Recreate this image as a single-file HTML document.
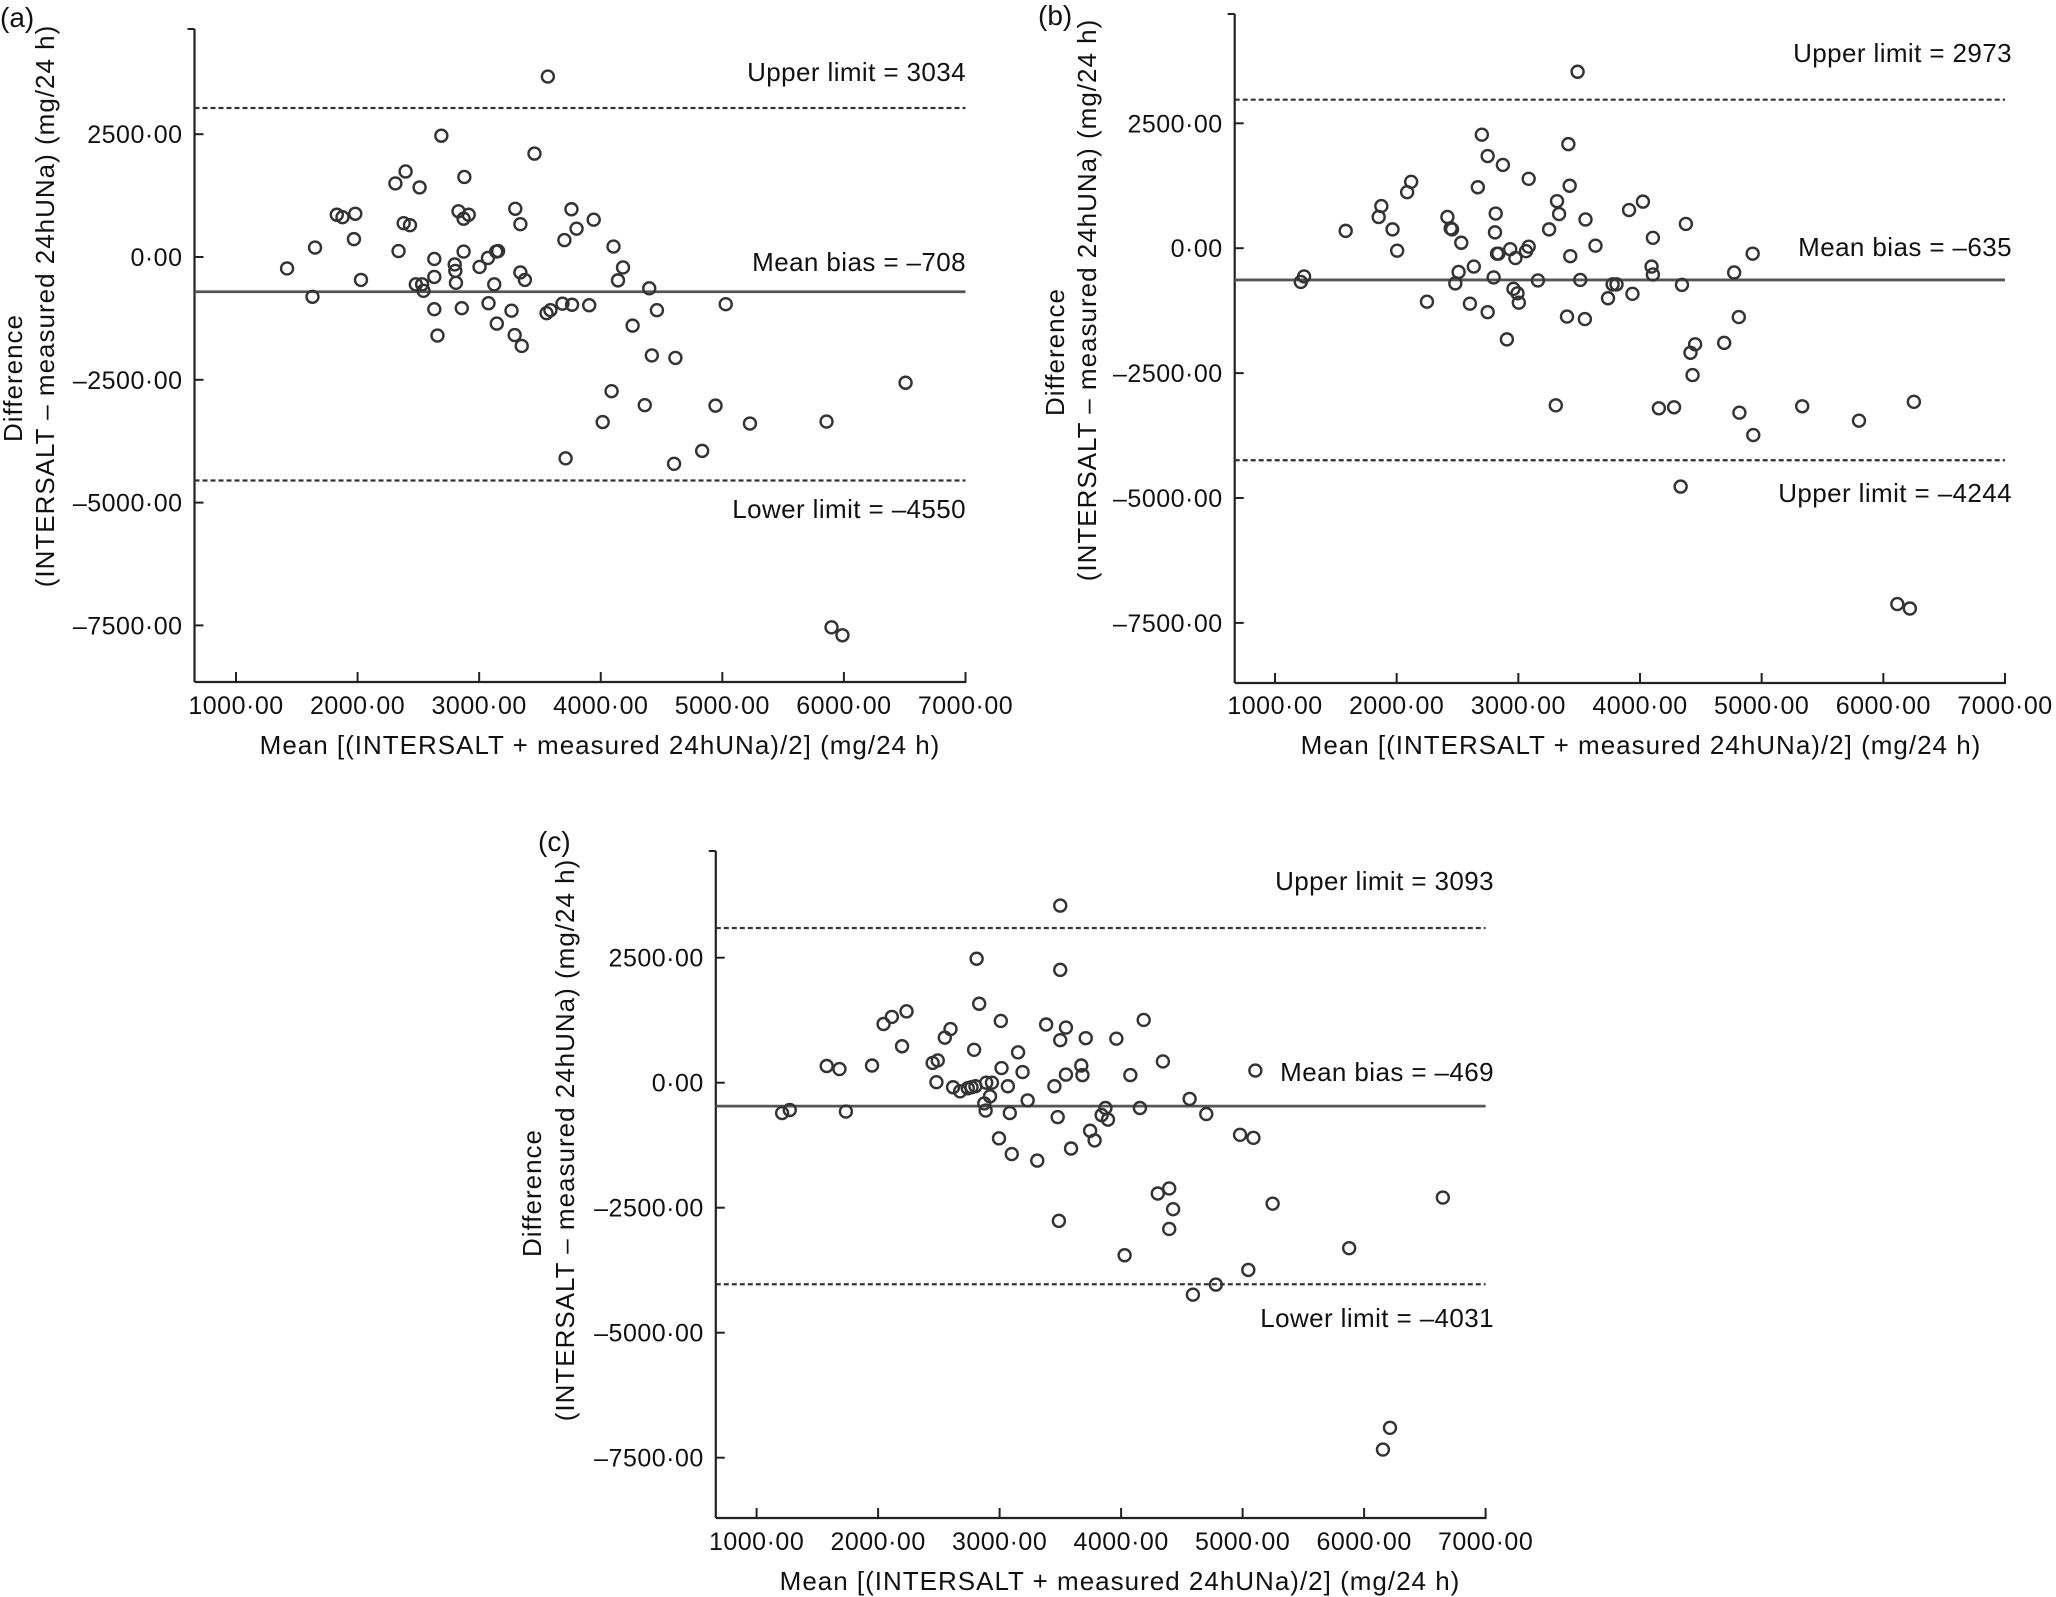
<!DOCTYPE html>
<html><head><meta charset="utf-8">
<style>
html,body{margin:0;padding:0;background:#fff;}
svg{display:block;font-family:"Liberation Sans",Arial,sans-serif;}
</style></head>
<body>
<svg id="fig" width="2056" height="1597" viewBox="0 0 2056 1597" xmlns="http://www.w3.org/2000/svg"></svg>
<script>
const xTicks = [1000,2000,3000,4000,5000,6000,7000];
const xTickLabels = ["1000·00","2000·00","3000·00","4000·00","5000·00","6000·00","7000·00"];
const yTicks = [2500,0,-2500,-5000,-7500];
const yTickLabels = ["2500·00","0·00","–2500·00","–5000·00","–7500·00"];

const aMean = [1420,1629,1650,1829,1876,1981,1970,2028,2311,2337,2395,2379,2431,2479,2510,2531,2542,2631,2631,2631,2657,2689,2799,2804,2809,2830,2857,2872,2878,2872,2914,3003,3072,3077,3124,3140,3156,3145,3266,3297,3292,3339,3339,3376,3350,3455,3565,3554,3586,3685,3701,3711,3759,3764,3801,3905,3942,4016,4089,4105,4142,4183,4262,4362,4399,4420,4462,4603,4614,4834,4944,5028,5227,5857,5898,5988,6507];
const aDiff = [-233,-810,192,860,810,880,364,-466,1498,121,1741,688,648,-557,1417,-557,-688,-40,-405,-1063,-1599,2469,-152,-283,-526,931,-1042,779,1629,111,860,-202,-20,-941,-557,111,121,-1356,-1093,982,-1589,668,-314,-466,-1811,2105,3674,-1144,-1083,-951,344,-4099,972,-972,577,-982,759,-3360,-2732,213,-476,-213,-1397,-3016,-638,-2004,-1083,-4210,-2054,-3947,-3026,-961,-3390,-3350,-7539,-7701,-2560];

const bMean = [1212,1239,1581,1852,1874,1966,2004,2086,2119,2249,2417,2444,2455,2482,2509,2531,2602,2634,2667,2700,2748,2748,2797,2808,2814,2825,2836,2873,2906,2933,2960,2976,2993,3004,3063,3085,3085,3161,3253,3308,3318,3335,3400,3411,3422,3427,3487,3509,3547,3552,3634,3737,3775,3807,3910,3938,4024,4095,4106,4106,4155,4280,4334,4345,4377,4415,4432,4453,4692,4774,4812,4817,4926,4931,5333,5800,6115,6218,6251];
const bDiff = [-675,-565,347,625,843,377,-50,1121,1329,-1071,625,397,377,-704,-476,109,-1111,-367,1220,2272,1845,-1280,-585,317,694,-109,-109,1667,-1825,-20,-813,-198,-903,-1091,-60,30,1389,-645,377,-3145,942,684,-1369,2083,1250,-159,3532,-635,-1419,575,50,-1002,-724,-724,764,-913,932,-367,208,-526,-3204,-3184,-4772,-734,486,-2093,-2540,-1924,-1895,-486,-1379,-3293,-109,-3740,-3164,-3452,-7123,-7212,-3075];

const cMean = [1210,1273,1577,1682,1735,1950,2045,2113,2197,2234,2449,2491,2480,2549,2596,2617,2675,2738,2769,2790,2801,2811,2832,2874,2885,2890,2921,2937,2995,3016,3010,3068,3084,3100,3152,3189,3231,3310,3383,3451,3478,3488,3499,3499,3499,3546,3546,3588,3672,3682,3709,3745,3782,3840,3871,3892,3961,4029,4076,4155,4186,4302,4344,4396,4428,4396,4564,4591,4701,4780,4979,5047,5089,5105,5247,5877,6155,6213,6648];
const cDiff = [-607,-546,334,273,-577,344,1174,1316,729,1427,395,445,10,901,1073,-91,-172,-111,-91,658,-71,2479,1579,-415,-557,0,-273,0,-1113,293,1235,-71,-607,-1427,607,213,-354,-1558,1164,-71,-688,-2763,2257,850,3542,162,1103,-1316,344,152,891,-961,-1154,-648,-506,-739,880,-3451,152,-506,1255,-2216,425,-2115,-2530,-2925,-324,-4240,-627,-4038,-1042,-3744,-1103,243,-2419,-3309,-7337,-6902,-2297];

const aLimits = [3034,-708,-4550];
const bLimits = [2973,-635,-4244];
const cLimits = [3093,-469,-4031];
const aLabels = ["Upper limit = 3034","Mean bias = –708","Lower limit = –4550"];
const bLabels = ["Upper limit = 2973","Mean bias = –635","Upper limit = –4244"];
const cLabels = ["Upper limit = 3093","Mean bias = –469","Lower limit = –4031"];

const NS = "http://www.w3.org/2000/svg";
const svg = document.getElementById('fig');
function mk(tag, attrs, parent, text){
  const e = document.createElementNS(NS, tag);
  for (const k in attrs) e.setAttribute(k, attrs[k]);
  if (text !== undefined) e.textContent = text;
  parent.appendChild(e);
  return e;
}

function drawPanel(id, g, means, diffs, limits, labels){
  const grp = mk('g', {}, svg);
  
  
  const sx = v => g.x1000 + (v - 1000) * (g.x7000 - g.x1000) / 6000;
  const sy = v => g.y0 - v * g.per2500 / 2500;
  const col = '#222';
  const pl = mk('text', {x:g.lx, y:g.ly, 'font-size':28, fill:'#111'}, grp, '(' + id + ')');
  
  
  const ya = mk('line', {x1:g.ax, y1:g.top, x2:g.ax, y2:g.bottom, stroke:col, 'stroke-width':2.2}, grp);
  
  
  const xa = mk('line', {x1:g.ax, y1:g.bottom, x2:sx(7000)+1, y2:g.bottom, stroke:col, 'stroke-width':2.2}, grp);
  
  
  mk('line', {x1:g.ax-7, y1:g.top, x2:g.ax, y2:g.top, stroke:col, 'stroke-width':2}, grp);
  xTicks.forEach((t,i) => {
    const x = sx(t);
    mk('line', {x1:x, y1:g.bottom, x2:x, y2:g.bottom-10, stroke:col, 'stroke-width':2}, grp);
    const tl = mk('text', {x:x, y:g.xtb, 'font-size':25, 'letter-spacing':0.5, 'text-anchor':'middle', fill:'#111'}, grp, xTickLabels[i]);
    
    
  });
  yTicks.forEach((t,i) => {
    const y = sy(t);
    mk('line', {x1:g.ax, y1:y, x2:g.ax+9, y2:y, stroke:col, 'stroke-width':2}, grp);
    const tl = mk('text', {x:g.ax-12, y:y+9, 'font-size':25, 'letter-spacing':0.5, 'text-anchor':'end', fill:'#111'}, grp, yTickLabels[i]);
    
    
  });
  const xt = mk('text', {x:g.xtc, y:g.xtitle, 'font-size':26, 'letter-spacing':1, 'text-anchor':'middle', fill:'#111'}, grp, 'Mean [(INTERSALT + measured 24hUNa)/2] (mg/24 h)');
  
  
  const yt1 = mk('text', {x:0, y:0, 'font-size':26, 'letter-spacing':1, 'text-anchor':'middle', fill:'#111', transform:`translate(${g.yt1x},${g.yt1y}) rotate(-90)`}, grp, 'Difference');
  
  
  const yt2 = mk('text', {x:0, y:0, 'font-size':26, 'letter-spacing':1, 'text-anchor':'middle', fill:'#111', transform:`translate(${g.yt2x},${g.yt2y}) rotate(-90)`}, grp, '(INTERSALT – measured 24hUNa) (mg/24 h)');
  
  
  limits.forEach((v,i) => {
    const y = sy(v);
    const ln = mk('line', {x1:g.ax, y1:y, x2:sx(7000), y2:y, stroke: i===1 ? '#555' : '#333', 'stroke-width': i===1 ? 2.8 : 2.2, 'stroke-dasharray': i===1 ? '' : '5,3'}, grp);
    
    
    const lb = mk('text', {x:g.annR, y:g.annY[i], 'font-size':26, 'letter-spacing':0.4, 'text-anchor':'end', fill:'#111'}, grp, labels[i]);
    
    
  });
  means.forEach((m,i) => {
    const c = mk('circle', {cx:sx(m), cy:sy(diffs[i]), r:6, fill:'none', stroke:'#333', 'stroke-width':2.4}, grp);
    
    
  });
}

drawPanel('a', {x1000:236, x7000:965.5, y0:257, per2500:122.8, ax:194.5, top:29, bottom:682,
  lx:0, ly:27, xtb:714, xtitle:754, xtc:600, yt1x:22, yt1y:378, yt2x:54, yt2y:306,
  annR:966, annY:[81,271,518]}, aMean, aDiff, aLimits, aLabels);
drawPanel('b', {x1000:1275, x7000:2005, y0:248.2, per2500:124.9, ax:1234.7, top:14, bottom:683,
  lx:1038, ly:25, xtb:714, xtitle:754, xtc:1641, yt1x:1064, yt1y:352, yt2x:1096, yt2y:300,
  annR:2012, annY:[62,256,502]}, bMean, bDiff, bLimits, bLabels);
drawPanel('c', {x1000:756.6, x7000:1485.6, y0:1082.7, per2500:125, ax:715.8, top:851, bottom:1518,
  lx:538, ly:851, xtb:1550, xtitle:1590, xtc:1120, yt1x:541, yt1y:1193, yt2x:574, yt2y:1140,
  annR:1494, annY:[890,1081,1327]}, cMean, cDiff, cLimits, cLabels);
</script>
</body></html>
